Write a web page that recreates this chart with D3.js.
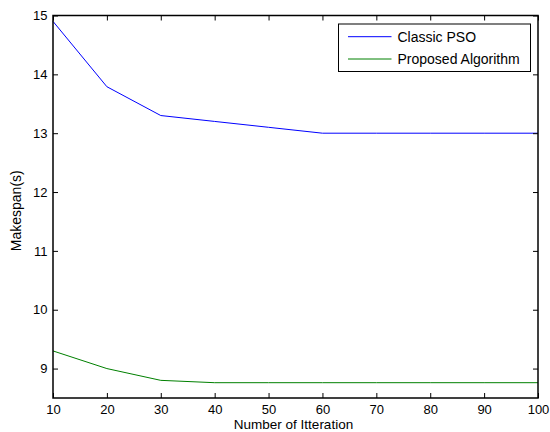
<!DOCTYPE html>
<html>
<head>
<meta charset="utf-8">
<script src="https://cdn.jsdelivr.net/npm/d3@7"></script>
<style>
  body { margin: 0; background: #fff; }
  svg text { font-family: "Liberation Sans", Arial, sans-serif; fill: #000; }
</style>
</head>
<body>
<div id="chart"></div>
<script>
"use strict";

var iterations = [10, 20, 30, 40, 50, 60, 70, 80, 90, 100];
var classicPso = [14.9, 13.79, 13.3, 13.2, 13.1, 13.0, 13.0, 13.0, 13.0, 13.0];
var proposedAlg = [9.3, 9.0, 8.8, 8.76, 8.76, 8.76, 8.76, 8.76, 8.76, 8.76];
var xTicks = [10, 20, 30, 40, 50, 60, 70, 80, 90, 100];
var yTicks = [9, 10, 11, 12, 13, 14, 15];
var seriesNames = ["Classic PSO", "Proposed Algorithm"];
var seriesColors = ["#0000ff", "#008000"];

var W = 550, H = 432;
var margin = { top: 15.5, right: 12, bottom: 34, left: 53 };
var width = W - margin.left - margin.right,
    height = H - margin.top - margin.bottom;

var svg = d3.select("#chart").append("svg")
  .attr("width", W).attr("height", H);
var g = svg.append("g")
  .attr("transform", "translate(" + margin.left + "," + margin.top + ")");

var x = d3.scaleLinear().domain([10, 100]).range([0, width]);
var y = d3.scaleLinear().domain([8.5, 15]).range([height, 0]);

// lines first so the axes sit on top
var line = d3.line()
  .x(function (d) { return x(d[0]); })
  .y(function (d) { return y(d[1]); });

[classicPso, proposedAlg].forEach(function (vals, i) {
  g.append("path")
    .datum(d3.zip(iterations, vals))
    .attr("fill", "none")
    .attr("stroke", seriesColors[i])
    .attr("stroke-width", 1)
    .attr("d", line);
});

// axes: ticks point inward, on all four sides
var fmt = d3.format("d");
var styleAxis = function (sel) {
  sel.select(".domain").remove();
  sel.selectAll("line").attr("stroke", "#000");
  sel.selectAll("text").style("font-size", "13px").style("font-family", "Liberation Sans, Arial, sans-serif");
};

g.append("g").attr("transform", "translate(0," + height + ")")
  .call(d3.axisBottom(x).tickValues(xTicks).tickFormat(fmt).tickSizeInner(-5).tickSizeOuter(0).tickPadding(6.5))
  .call(styleAxis);
g.append("g")
  .call(d3.axisTop(x).tickValues(xTicks).tickSizeInner(-5).tickSizeOuter(0).tickFormat(""))
  .call(styleAxis);
g.append("g")
  .call(d3.axisLeft(y).tickValues(yTicks).tickFormat(fmt).tickSizeInner(-5).tickSizeOuter(0).tickPadding(5.5))
  .call(styleAxis);
g.append("g").attr("transform", "translate(" + width + ",0)")
  .call(d3.axisRight(y).tickValues(yTicks).tickSizeInner(-5).tickSizeOuter(0).tickFormat(""))
  .call(styleAxis);

g.append("rect")
  .attr("width", width).attr("height", height)
  .attr("fill", "none").attr("stroke", "#000").attr("stroke-width", 1.5);

// axis labels
svg.append("text")
  .attr("x", margin.left + width / 2 - 2).attr("y", 429)
  .attr("text-anchor", "middle").style("font-size", "13.5px")
  .text("Number of Itteration");
svg.append("text")
  .attr("transform", "translate(20.5," + (margin.top + height / 2 + 4) + ") rotate(-90)")
  .attr("text-anchor", "middle").style("font-size", "14px")
  .text("Makespan(s)");

// legend
var legend = g.append("g").attr("transform", "translate(" + (338.5 - margin.left) + "," + (24 - margin.top) + ")");
legend.append("rect")
  .attr("width", 192).attr("height", 47.5)
  .attr("fill", "#fff").attr("stroke", "#000").attr("stroke-width", 1);
seriesNames.forEach(function (name, i) {
  var ly = 12.7 + i * 22.3;
  legend.append("line")
    .attr("x1", 9.5).attr("x2", 53).attr("y1", ly).attr("y2", ly)
    .attr("stroke", seriesColors[i]).attr("stroke-width", 1);
  legend.append("text")
    .attr("x", 59).attr("y", ly + 5)
    .style("font-size", "14px")
    .text(name);
});
</script>
</body>
</html>
